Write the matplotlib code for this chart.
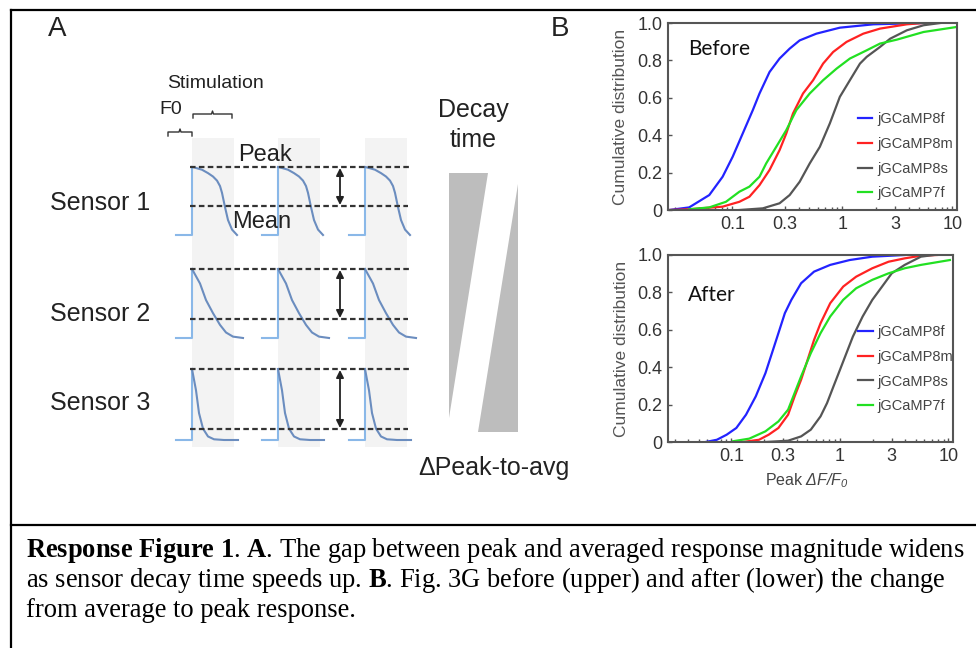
import numpy as np
import matplotlib.pyplot as plt
from matplotlib.patches import Polygon, Rectangle

plt.rcParams['font.family'] = ['Liberation Sans', 'DejaVu Sans']
plt.rcParams['mathtext.fontset'] = 'custom'
plt.rcParams['mathtext.rm'] = 'Liberation Serif'
plt.rcParams['mathtext.bf'] = 'Liberation Serif:bold'
plt.rcParams['mathtext.sf'] = 'Liberation Sans:italic'

# ---- panel B: cumulative distributions (peak dF/F0, fraction)
sensors = ['jGCaMP8f', 'jGCaMP8m', 'jGCaMP8s', 'jGCaMP7f']
sensor_colors = ['#2323ff', '#ff2222', '#555555', '#22e022']

before_8f_x = [0.0266, 0.0405, 0.0617, 0.0816, 0.1007, 0.1242, 0.1534, 0.1765, 0.2178, 0.2686, 0.3318, 0.4091, 0.58, 0.948, 1.914, 5.47]
before_8f_y = [0.0, 0.014, 0.080, 0.178, 0.285, 0.409, 0.534, 0.623, 0.738, 0.810, 0.863, 0.907, 0.943, 0.975, 0.993, 1.0]
before_8m_x = [0.0266, 0.0405, 0.0816, 0.1159, 0.1429, 0.1765, 0.2178, 0.2686, 0.309, 0.3556, 0.4387, 0.542, 0.668, 0.824, 1.091, 1.549, 2.198, 3.855, 5.47]
before_8m_y = [0.0, 0.004, 0.018, 0.044, 0.071, 0.133, 0.214, 0.320, 0.409, 0.516, 0.623, 0.694, 0.783, 0.845, 0.899, 0.943, 0.970, 0.993, 1.0]
before_8s_x = [0.1159, 0.1892, 0.2686, 0.3318, 0.4091, 0.5047, 0.624, 0.769, 0.948, 1.17, 1.445, 1.663, 2.198, 2.716, 3.855, 5.47, 7.77]
before_8s_y = [0.0, 0.009, 0.036, 0.080, 0.151, 0.249, 0.338, 0.463, 0.605, 0.694, 0.783, 0.819, 0.872, 0.916, 0.961, 0.988, 1.0]
before_7f_x = [0.0405, 0.0617, 0.0875, 0.1159, 0.1429, 0.1765, 0.2029, 0.2506, 0.309, 0.3813, 0.5047, 0.668, 0.885, 1.17, 1.663, 2.198, 3.126, 5.47, 11.0]
before_7f_y = [0.004, 0.014, 0.044, 0.098, 0.125, 0.178, 0.249, 0.338, 0.427, 0.534, 0.623, 0.694, 0.756, 0.810, 0.854, 0.890, 0.911, 0.952, 0.979]

after_8f_x = [0.0578, 0.0734, 0.0903, 0.1109, 0.1362, 0.1675, 0.2056, 0.2361, 0.2709, 0.3106, 0.3565, 0.4385, 0.5771, 0.8128, 1.228, 1.986, 3.95]
after_8f_y = [0.0, 0.012, 0.039, 0.075, 0.146, 0.244, 0.368, 0.475, 0.582, 0.689, 0.760, 0.849, 0.911, 0.947, 0.973, 0.991, 1.0]
after_8m_x = [0.1273, 0.1795, 0.2203, 0.2709, 0.3327, 0.382, 0.4385, 0.5035, 0.5771, 0.6622, 0.8128, 1.071, 1.41, 1.986, 2.805, 3.95, 5.57, 7.85]
after_8m_y = [0.0, 0.012, 0.039, 0.075, 0.146, 0.244, 0.333, 0.440, 0.546, 0.635, 0.742, 0.831, 0.884, 0.929, 0.964, 0.982, 0.996, 1.0]
after_8s_x = [0.2056, 0.3327, 0.4385, 0.5386, 0.6622, 0.760, 0.871, 1.0, 1.147, 1.316, 1.618, 1.986, 2.443, 3.0, 3.95, 5.57, 7.33]
after_8s_y = [0.0, 0.007, 0.030, 0.066, 0.137, 0.208, 0.297, 0.386, 0.475, 0.564, 0.671, 0.760, 0.831, 0.902, 0.947, 0.991, 1.0]
after_7f_x = [0.1035, 0.1459, 0.2056, 0.2709, 0.3327, 0.382, 0.4385, 0.5386, 0.6622, 0.8128, 1.071, 1.41, 1.986, 2.805, 3.95, 5.57, 10.3]
after_7f_y = [0.004, 0.018, 0.057, 0.110, 0.173, 0.262, 0.351, 0.475, 0.582, 0.671, 0.760, 0.822, 0.867, 0.902, 0.929, 0.947, 0.973]

x_ticks = [0.1, 0.3, 1, 3, 10]
x_ticklabels = ['0.1', '0.3', '1', '3', '10']
y_ticks = [0, 0.2, 0.4, 0.6, 0.8, 1.0]
y_ticklabels = ['0', '0.2', '0.4', '0.6', '0.8', '1.0']

# ---- panel A schematic (drawn in pixel units of the page)
sensor_names = ['Sensor 1', 'Sensor 2', 'Sensor 3']
label_y = [203, 314, 403]
peak_y = [167, 269, 369]
mean_y = [206, 319, 429]
base_y = [235, 338, 440]
rise_x = [192, 278, 365]
stim_width = 42
# normalised decay shapes (time after onset in px, fraction of peak)
decay_t = [[0, 3, 10, 16, 21, 25, 28, 30, 33, 36, 40, 45],
           [0, 8, 14, 21, 28, 34, 41, 51],
           [0, 4, 7, 11, 16, 22, 32, 46]]
decay_a = [[1, 0.99, 0.96, 0.91, 0.86, 0.80, 0.72, 0.62, 0.41, 0.22, 0.08, 0.0],
           [1, 0.79, 0.55, 0.36, 0.19, 0.08, 0.02, 0.0],
           [1, 0.70, 0.38, 0.16, 0.05, 0.01, 0.0, 0.0]]
caption = [r'$\mathbf{Response}$ $\mathbf{Figure}$ $\mathbf{1}$. $\mathbf{A}$. The gap between peak and averaged response magnitude widens',
           r'as sensor decay time speeds up. $\mathbf{B}$. Fig. 3G before (upper) and after (lower) the change',
           r'from average to peak response.']

fig = plt.figure(figsize=(9.76, 6.48), dpi=100)
ax = fig.add_axes([0, 0, 1, 1])
ax.set_xlim(0, 976)
ax.set_ylim(648, 0)
ax.axis('off')

# page borders
ax.plot([11, 976], [10, 10], color='black', lw=1.6)
ax.plot([11, 11], [10, 648], color='black', lw=1.6)
ax.plot([11, 976], [525, 525], color='black', lw=1.6)

for i, line in enumerate(caption):
    ax.text(26, 557 + 30 * i, line, fontsize=19.1, family='Liberation Serif',
            va='baseline', ha='left', color='black')

ax.text(57, 29, 'A', fontsize=20, ha='center', va='center', color='#222')
ax.text(560, 29, 'B', fontsize=20, ha='center', va='center', color='#222')

# stimulation windows
for x0 in rise_x:
    ax.add_patch(Rectangle((x0, 138), stim_width, 309, facecolor='#f3f3f3', edgecolor='none', zorder=0))

ax.text(215, 83, 'Stimulation', fontsize=14, ha='center', va='center', color='#222')
ax.text(171, 110, 'F0', fontsize=14, ha='center', va='center', color='#222')
for (xa, xb, yb) in [(168, 192, 132), (193, 232, 114)]:
    xm = (xa + xb) / 2
    ax.plot([xa, xa, xm - 1, xm, xm + 1, xb, xb], [yb + 4, yb, yb, yb - 3, yb, yb, yb + 4],
            color='#333', lw=1)

for r in range(3):
    t = np.array(decay_t[r])
    a = np.array(decay_a[r])
    amp = base_y[r] - peak_y[r]
    for x0 in rise_x:
        ax.plot([x0 - 16, x0, x0], [base_y[r], base_y[r], peak_y[r]], color='#8ab8e8', lw=1.5, zorder=2)
        ax.plot(x0 + t, base_y[r] - a * amp, color='#6b8dbf', lw=1.5, zorder=2)
    ax.plot([190, 410], [peak_y[r], peak_y[r]], ls=(0, (2.5, 1.5)), color='#333', lw=1.6, zorder=3)
    ax.plot([190, 408], [mean_y[r], mean_y[r]], ls=(0, (2.5, 1.5)), color='#333', lw=1.6, zorder=3)
    ax.annotate('', xy=(340, peak_y[r] + 1), xytext=(340, mean_y[r] - 1),
                arrowprops=dict(arrowstyle='<|-|>', color='#222', lw=1.3, mutation_scale=11,
                                shrinkA=0, shrinkB=0), zorder=4)
    ax.text(100, label_y[r], sensor_names[r], fontsize=18, ha='center', va='center', color='#222')

ax.text(265, 155, 'Peak', fontsize=17, ha='center', va='center', color='#222', zorder=5)
ax.text(262, 222, 'Mean', fontsize=17, ha='center', va='center', color='#222', zorder=5)

ax.add_patch(Polygon([(449, 173), (488, 173), (449, 418)], closed=True, facecolor='#bdbdbd', edgecolor='none'))
ax.add_patch(Polygon([(518, 184), (478, 432), (518, 432)], closed=True, facecolor='#bdbdbd', edgecolor='none'))
ax.text(473, 110, 'Decay', fontsize=18, ha='center', va='center', color='#222')
ax.text(473, 140, 'time', fontsize=18, ha='center', va='center', color='#222')
ax.text(494, 468, 'ΔPeak-to-avg', fontsize=18, ha='center', va='center', color='#222')

# ---- panel B
panels = [
    ([0.6844, 0.6759, 0.2961, 0.2886], 'Before',
     [(before_8f_x, before_8f_y), (before_8m_x, before_8m_y), (before_8s_x, before_8s_y), (before_7f_x, before_7f_y)],
     (0.657, 0.524), 0.861),
    ([0.6844, 0.3179, 0.2920, 0.2886], 'After',
     [(after_8f_x, after_8f_y), (after_8m_x, after_8m_y), (after_8s_x, after_8s_y), (after_7f_x, after_7f_y)],
     (0.667, 0.626), 0.786),
]
for k, (rect, title, curves, leg_anchor, title_y) in enumerate(panels):
    axb = fig.add_axes(rect)
    axb.patch.set_alpha(0)
    for (cx, cy), name, col in zip(curves, sensors, sensor_colors):
        axb.plot(cx, cy, color=col, lw=1.6, label=name)
    axb.set_xscale('log')
    axb.set_xlim(0.026, 11)
    axb.set_ylim(0, 1.0)
    axb.set_xticks(x_ticks)
    axb.set_xticklabels(x_ticklabels)
    axb.set_yticks(y_ticks)
    axb.set_yticklabels(y_ticklabels)
    axb.xaxis.set_minor_locator(plt.matplotlib.ticker.LogLocator(base=10, subs=np.arange(2, 10)))
    axb.xaxis.set_minor_formatter(plt.NullFormatter())
    axb.tick_params(which='major', direction='in', length=3, width=1, color='#555',
                    labelcolor='#333', labelsize=13, pad=4)
    axb.tick_params(which='minor', direction='in', length=2, width=1, color='#555')
    for sp in axb.spines.values():
        sp.set_color('#555')
        sp.set_linewidth(1.5)
    axb.set_ylabel('Cumulative distribution', fontsize=12.5, color='#555')
    axb.yaxis.set_label_coords(-0.138, 0.5)
    axb.text(0.069, title_y, title, transform=axb.transAxes, fontsize=15, family=['Lato', 'DejaVu Sans'],
             color='#111', ha='left', va='center')
    axb.legend(loc='upper left', bbox_to_anchor=leg_anchor, frameon=False, fontsize=10.5,
               handlelength=1.0, handletextpad=0.35, borderpad=0, borderaxespad=0,
               labelspacing=0.74, labelcolor='#444')
    if k == 1:
        axb.set_xlabel(r'Peak $\mathsf{ΔF/F_0}$', fontsize=11.5, color='#444')
        axb.xaxis.set_label_coords(0.488, -0.155)

fig.savefig('out.png', dpi=100)
